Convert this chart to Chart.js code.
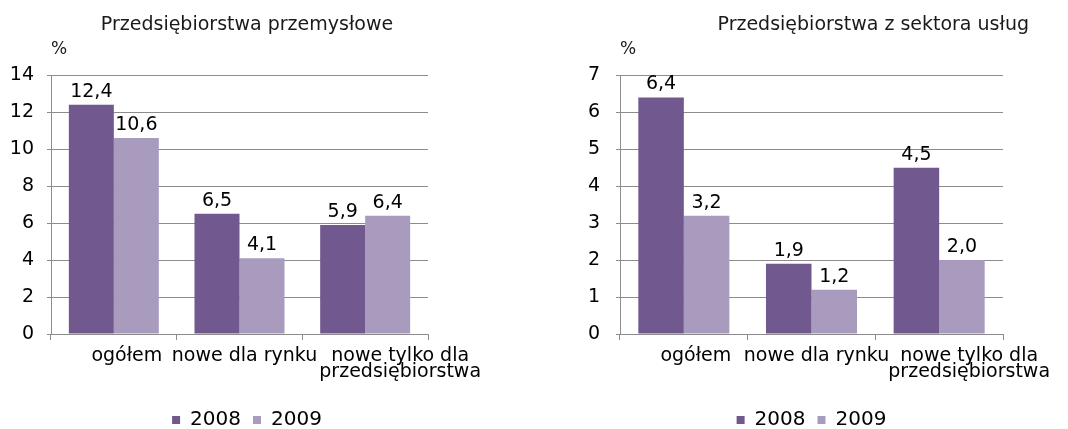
<!DOCTYPE html>
<html>
<head>
<meta charset="utf-8">
<script src="https://cdn.jsdelivr.net/npm/chart.js@4"></script>
<style>
html, body { margin: 0; padding: 0; background: #fff; }
.box { position: absolute; top: 0; width: 534px; height: 429px; }
</style>
</head>
<body>
<div class="box" style="left:0"><canvas id="c1"></canvas></div>
<div class="box" style="left:534px"><canvas id="c2"></canvas></div>
<script>
const categories = ['ogółem', 'nowe dla rynku', ['nowe tylko dla', 'przedsiębiorstwa']];
const years = ['2008', '2009'];
const industry2008 = [12.4, 6.5, 5.9];
const industry2009 = [10.6, 4.1, 6.4];
const services2008 = [6.4, 1.9, 4.5];
const services2009 = [3.2, 1.2, 2.0];

const FONT = '"DejaVu Sans", sans-serif';
const GRID = '#8c8c8c';

// value labels above bars, polish decimal comma
const valueLabels = {
  id: 'valueLabels',
  afterDatasetsDraw(chart) {
    const ctx = chart.ctx;
    ctx.save();
    ctx.font = '19px ' + FONT;
    ctx.fillStyle = '#000';
    ctx.textAlign = 'center';
    ctx.textBaseline = 'alphabetic';
    chart.data.datasets.forEach((ds, i) => {
      chart.getDatasetMeta(i).data.forEach((bar, j) => {
        ctx.fillText(ds.data[j].toFixed(1).replace('.', ','), bar.x, bar.y - 8);
      });
    });
    ctx.restore();
  }
};

// the category labels are not centred under their groups in the original
const labelShift = {
  id: 'labelShift',
  afterUpdate(chart, args, opts) {
    const items = chart.scales.x.getLabelItems();
    items.forEach((item, i) => { item.options.translation[0] += opts.dx[i] || 0; });
  }
};

function makeChart(id, title, d08, d09, o) {
  return new Chart(document.getElementById(id), {
    type: 'bar',
    data: {
      labels: categories,
      datasets: [
        { label: years[0], data: d08, backgroundColor: '#71588f', borderWidth: 0 },
        { label: years[1], data: d09, backgroundColor: '#a99bbd', borderWidth: 0 },
      ]
    },
    options: {
      responsive: true,
      maintainAspectRatio: false,
      animation: false,
      layout: { padding: { left: 0, right: o.padRight, top: 0, bottom: -11 } },
      datasets: { bar: { barPercentage: 1, categoryPercentage: o.catPct } },
      scales: {
        x: {
          grid: { drawOnChartArea: false, tickLength: 6, color: GRID, offset: true },
          border: { color: GRID },
          ticks: { color: '#000', font: { family: FONT, size: 19, lineHeight: 0.85 }, padding: 8, maxRotation: 0, autoSkip: false },
          afterFit(s) { s.height = 64; }
        },
        y: {
          min: 0, max: o.yMax,
          grid: { color: GRID, tickLength: 4 },
          border: { color: GRID },
          ticks: { stepSize: o.yStep, color: '#000', font: { family: FONT, size: 19 }, crossAlign: 'near', padding: o.tickPad },
          afterFit(s) { s.width = o.yWidth; }
        },
        yR: {
          type: 'linear', position: 'right', display: true,
          grid: { display: false }, border: { display: false }, ticks: { display: false },
          afterFit(s) { s.width = o.dummyWidth; }
        }
      },
      plugins: {
        title: {
          display: true, text: title, align: o.titleAlign, color: '#1a1a1a',
          font: { family: FONT, size: 19, weight: 'normal' }, padding: { top: 14, bottom: 0 }
        },
        subtitle: {
          display: true, text: '%', align: 'start', fullSize: false, color: '#1a1a1a',
          font: { family: FONT, size: 17 }, padding: { top: 3, bottom: 15 }
        },
        legend: {
          position: 'bottom', fullSize: o.legendFull,
          labels: { color: '#000', font: { family: FONT, size: 20 }, boxWidth: 8, boxHeight: 8, padding: 12 }
        },
        labelShift: { dx: o.labelDx },
        tooltip: { enabled: false }
      }
    },
    plugins: [valueLabels, labelShift]
  });
}

makeChart('c1', 'Przedsiębiorstwa przemysłowe', industry2008, industry2009, {
  yMax: 14, yStep: 2, yWidth: 51, tickPad: 13, padRight: 40, dummyWidth: 66,
  catPct: 0.716, titleAlign: 'center', legendFull: true, labelDx: [13, 5, 35]
});
makeChart('c2', 'Przedsiębiorstwa z sektora usług', services2008, services2009, {
  yMax: 7, yStep: 1, yWidth: 86, tickPad: 16, padRight: 39, dummyWidth: 26,
  catPct: 0.713, titleAlign: 'end', legendFull: false, labelDx: [12, 5, 30]
});
</script>
</body>
</html>
